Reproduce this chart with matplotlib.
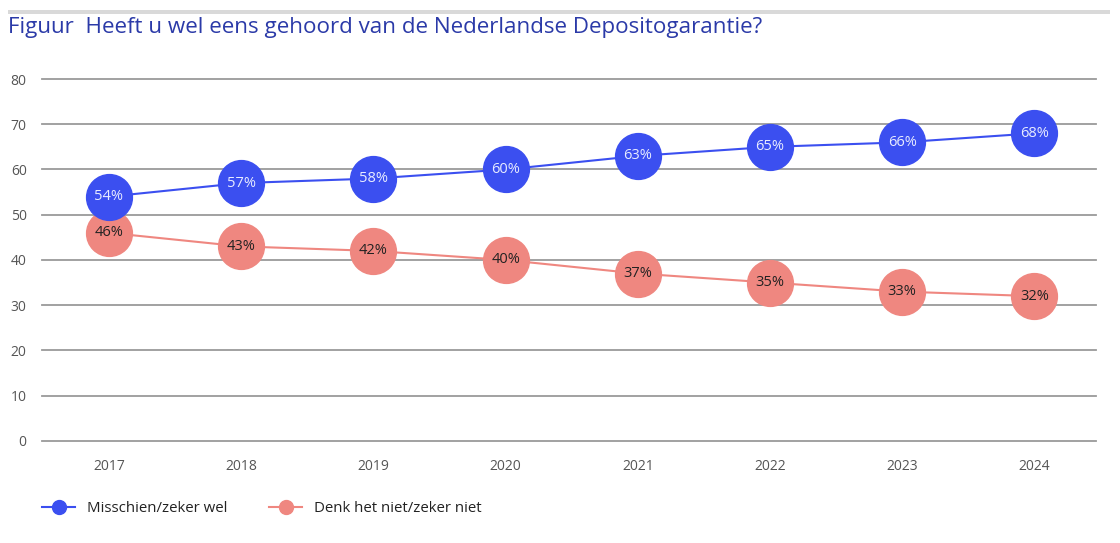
import matplotlib.pyplot as plt
from matplotlib.lines import Line2D
from matplotlib.patches import Rectangle

years = [2017, 2018, 2019, 2020, 2021, 2022, 2023, 2024]
wel = [54, 57, 58, 60, 63, 65, 66, 68]
niet = [46, 43, 42, 40, 37, 35, 33, 32]
y_ticks = [0, 10, 20, 30, 40, 50, 60, 70, 80]

blue = '#3b4ff0'
salmon = '#ef8780'

plt.rcParams['font.family'] = ['Open Sans', 'DejaVu Sans']

fig = plt.figure(figsize=(11.2, 5.43), dpi=100)
ax = fig.add_axes([0.0375, 0.188, 0.9415, 0.6665])

# top grey bar
fig.add_artist(Rectangle((8 / 1120, 1 - 14 / 543), 1102 / 1120, 4 / 543,
                         transform=fig.transFigure, color='#d9d9d9', lw=0))
fig.text(8 / 1120, 1 - 28 / 543, 'Figuur  Heeft u wel eens gehoord van de Nederlandse Depositogarantie?',
         color='#2b3aa8', fontsize=16.1, va='center', ha='left')

ax.plot(years, niet, color=salmon, lw=1.5, marker='o', markersize=33, zorder=3)
ax.plot(years, wel, color=blue, lw=1.5, marker='o', markersize=33, zorder=4)

for x, v in zip(years, niet):
    ax.text(x, v, f'{v}%', ha='center', va='center', fontsize=10.5, color='#222222', zorder=5)
for x, v in zip(years, wel):
    ax.text(x, v, f'{v}%', ha='center', va='center', fontsize=10.5, color='#e8ecff', zorder=6)

ax.set_ylim(0, 80)
ax.set_xlim(2016.494, 2024.469)
ax.set_yticks(y_ticks)
ax.set_xticks(years)
ax.grid(axis='y', color='#9a9a9a', lw=1.3)
for gl in ax.get_ygridlines():
    gl.set_clip_on(False)
ax.set_axisbelow(True)
for s in ax.spines.values():
    s.set_visible(False)
ax.tick_params(length=0, labelsize=10, labelcolor='#555555')
ax.tick_params(axis='y', pad=11)
ax.tick_params(axis='x', pad=13)

handles = [
    Line2D([], [], color=blue, lw=1.5, marker='o', markersize=10),
    Line2D([], [], color=salmon, lw=1.5, marker='o', markersize=10),
]
fig.legend(handles, ['Misschien/zeker wel', 'Denk het niet/zeker niet'],
           loc='center left', bbox_to_anchor=(42 / 1120, 1 - 509 / 543),
           ncol=2, frameon=False, fontsize=10.8, handlelength=2.2,
           handletextpad=0.8, columnspacing=2.8, borderpad=0,
           borderaxespad=0, labelcolor='#222222')

fig.savefig('out.png', dpi=100)
